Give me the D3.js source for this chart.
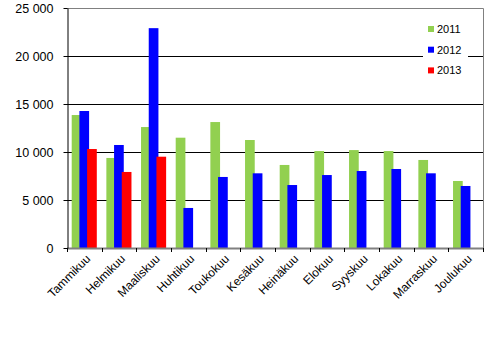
<!DOCTYPE html>
<html lang="fi">
<head>
  <meta charset="UTF-8">
  <title>Kuukausittain 2011–2013</title>
  <script src="https://d3js.org/d3.v7.min.js"></script>
  <style>
    body { margin: 0; background: #fff; font-family: "Liberation Sans", Arial, sans-serif; }
    svg text { fill: #000; }
  </style>
</head>
<body>
<svg id="chart" width="498" height="340"></svg>
<script>
const months = ["Tammikuu", "Helmikuu", "Maaliskuu", "Huhtikuu", "Toukokuu", "Kesäkuu",
                "Heinäkuu", "Elokuu", "Syyskuu", "Lokakuu", "Marraskuu", "Joulukuu"];
const years = ["2011", "2012", "2013"];
const v2011 = [13850, 9380, 12600, 11490, 13120, 11250, 8650, 10100, 10200, 10100, 9170, 6980];
const v2012 = [14270, 10730, 22900, 4170, 7400, 7780, 6560, 7600, 8020, 8230, 7780, 6460];
const v2013 = [10310, 7920, 9510, null, null, null, null, null, null, null, null, null];
const yTicks = [0, 5000, 10000, 15000, 20000, 25000];
const colors = ["#92d050", "#0000ff", "#ff0000"];

const series = [v2011, v2012, v2013];
const svg = d3.select("#chart");
const m = { left: 67, right: 483, top: 8, bottom: 248 };

const x = d3.scaleBand().domain(months).range([m.left, m.right]);
const y = d3.scaleLinear().domain([0, 25000]).range([m.bottom, m.top]);
const fmt = d => d3.format(",")(d).replace(/,/g, " ");

// gridlines
svg.append("g")
  .selectAll("line")
  .data(yTicks.filter(t => t > 0 && t < 25000))
  .join("line")
  .attr("x1", m.left).attr("x2", m.right)
  .attr("y1", d => Math.round(y(d)) + 0.5).attr("y2", d => Math.round(y(d)) + 0.5)
  .attr("stroke", "#000");

// plot border (top, right, bottom)
svg.append("path")
  .attr("d", `M${m.left},${m.top + 0.5}H${m.right + 0.5}V${m.bottom + 0.5}`)
  .attr("fill", "none").attr("stroke", "#808080");

// bars
const bw = 9.7, step = 7.7, off = 4.7;
series.forEach((vals, si) => {
  svg.append("g")
    .selectAll("rect")
    .data(vals.map((v, i) => ({ m: months[i], v })).filter(d => d.v != null))
    .join("rect")
    .attr("x", d => x(d.m) + off + si * step)
    .attr("width", bw)
    .attr("y", d => y(d.v))
    .attr("height", d => y(0) - y(d.v))
    .attr("fill", colors[si]);
});

// bottom shadow line
svg.append("line")
  .attr("x1", m.left).attr("x2", m.right)
  .attr("y1", m.bottom + 0.5).attr("y2", m.bottom + 0.5)
  .attr("stroke", "#808080").attr("stroke-width", 2);

// y axis
const yAxis = svg.append("g")
  .attr("transform", `translate(${m.left + 0.5},0)`)
  .call(d3.axisLeft(y).tickValues(yTicks).tickFormat(fmt).tickSize(4).tickSizeOuter(0));
yAxis.select(".domain").attr("stroke", "#000");
yAxis.selectAll(".tick line").attr("stroke", "#000");
yAxis.selectAll("text")
  .attr("x", -14)
  .style("font-family", "'Liberation Sans', Arial, sans-serif")
  .style("font-size", "12.5px");

// x axis
const xAxis = svg.append("g")
  .attr("transform", `translate(0,${m.bottom + 0.5})`)
  .call(d3.axisBottom(x).tickSize(0).tickSizeOuter(0));
xAxis.select(".domain").remove();
xAxis.selectAll(".tick text")
  .attr("text-anchor", "end")
  .attr("transform", "translate(4,8) rotate(-45)")
  .attr("dy", "0.35em")
  .attr("y", 0)
  .style("font-family", "'Liberation Sans', Arial, sans-serif")
  .style("font-size", "12px");

// category tick marks at band edges
svg.append("g")
  .selectAll("line")
  .data(d3.range(months.length + 1))
  .join("line")
  .attr("x1", i => Math.round(m.left + i * x.step()) + 0.5)
  .attr("x2", i => Math.round(m.left + i * x.step()) + 0.5)
  .attr("y1", m.bottom).attr("y2", m.bottom + 4)
  .attr("stroke", "#000");

// legend
const lg = svg.append("g");
lg.append("rect")
  .attr("x", 423).attr("y", 17).attr("width", 45).attr("height", 64)
  .attr("fill", "#fff");
years.forEach((yr, i) => {
  const row = lg.append("g").attr("transform", `translate(428,${29 + i * 20.7})`);
  row.append("rect").attr("x", 0).attr("y", -3).attr("width", 6).attr("height", 6).attr("fill", colors[i]);
  row.append("text").attr("x", 9).attr("y", 0).attr("dy", "0.35em")
    .style("font-size", "11px").text(yr);
});
</script>
</body>
</html>
